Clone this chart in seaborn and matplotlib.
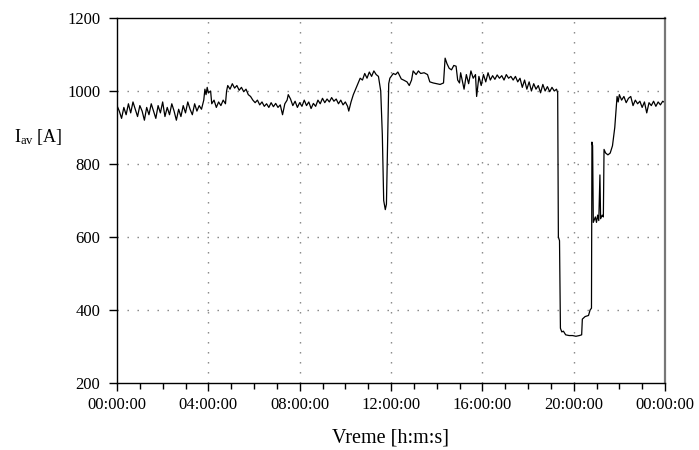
import matplotlib
matplotlib.use("Agg")
import matplotlib.pyplot as plt
import pandas as pd
import seaborn as sns

# time of day in hours and averaged current in A
hours = [
    0.0, 0.1, 0.2, 0.3, 0.4, 0.5, 0.6, 0.7, 0.8, 0.9,
    1.0, 1.1, 1.2, 1.3, 1.4, 1.5, 1.6, 1.7, 1.8, 1.9,
    2.0, 2.1, 2.2, 2.3, 2.4, 2.5, 2.6, 2.7, 2.8, 2.9,
    3.0, 3.1, 3.2, 3.3, 3.4, 3.5, 3.6, 3.7, 3.8, 3.85,
    3.9, 3.95, 4.0, 4.1, 4.15, 4.25, 4.35, 4.45, 4.55, 4.65,
    4.75, 4.8, 4.85, 4.95, 5.05, 5.15, 5.25, 5.35, 5.45, 5.55,
    5.65, 5.75, 5.85, 5.95, 6.05, 6.15, 6.25, 6.35, 6.45, 6.55,
    6.65, 6.75, 6.85, 6.95, 7.05, 7.15, 7.25, 7.35, 7.45, 7.5,
    7.6, 7.7, 7.8, 7.9, 8.0, 8.1, 8.2, 8.3, 8.4, 8.5,
    8.6, 8.7, 8.8, 8.9, 9.0, 9.1, 9.2, 9.3, 9.4, 9.5,
    9.6, 9.7, 9.8, 9.9, 10.0, 10.1, 10.15, 10.25, 10.35, 10.45,
    10.55, 10.65, 10.75, 10.85, 10.95, 11.05, 11.15, 11.25, 11.35, 11.45,
    11.55, 11.62, 11.68, 11.75, 11.8, 11.85, 11.9, 11.95, 12.1, 12.2,
    12.3, 12.45, 12.55, 12.7, 12.8, 12.9, 12.97, 13.1, 13.2, 13.3,
    13.45, 13.6, 13.7, 13.85, 14.0, 14.15, 14.3, 14.37, 14.45, 14.55,
    14.65, 14.75, 14.85, 14.92, 15.0, 15.05, 15.1, 15.2, 15.3, 15.4,
    15.5, 15.6, 15.7, 15.75, 15.85, 15.95, 16.05, 16.15, 16.25, 16.35,
    16.45, 16.55, 16.65, 16.75, 16.85, 16.95, 17.05, 17.15, 17.25, 17.35,
    17.45, 17.55, 17.65, 17.75, 17.85, 17.95, 18.05, 18.15, 18.25, 18.35,
    18.45, 18.55, 18.65, 18.75, 18.85, 18.95, 19.05, 19.15, 19.25, 19.3,
    19.33, 19.38, 19.42, 19.48, 19.55, 19.65, 19.8, 19.95, 20.1, 20.25,
    20.35, 20.38, 20.5, 20.65, 20.72, 20.78, 20.8, 20.83, 20.86, 20.95,
    21.0, 21.05, 21.1, 21.15, 21.18, 21.25, 21.3, 21.33, 21.4, 21.5,
    21.6, 21.7, 21.8, 21.9, 21.95, 22.0, 22.1, 22.2, 22.3, 22.4,
    22.5, 22.6, 22.7, 22.8, 22.9, 23.0, 23.1, 23.2, 23.3, 23.4,
    23.5, 23.6, 23.7, 23.8, 23.9, 24.0,
]
current = [
    960, 945, 925, 955, 935, 965, 940, 970, 950, 930,
    960, 945, 920, 955, 935, 965, 945, 925, 960, 940,
    970, 930, 955, 935, 965, 945, 920, 950, 930, 960,
    940, 970, 950, 935, 965, 945, 960, 950, 975, 1005,
    990, 1010, 995, 1000, 965, 975, 955, 970, 960, 975,
    965, 1000, 1015, 1005, 1020, 1008, 1015, 1002, 1010, 998,
    1005, 990, 985, 975, 968, 975, 962, 970, 958, 965,
    955, 968, 957, 966, 955, 962, 935, 965, 975, 990,
    978, 960, 972, 955, 968, 958, 975, 960, 970, 952,
    966, 958, 975, 965, 980, 968, 978, 970, 982, 972,
    978, 965, 975, 962, 970, 958, 945, 970, 990, 1005,
    1020, 1035, 1030, 1048, 1035, 1052, 1040, 1055, 1045, 1040,
    1000, 880, 700, 675, 690, 850, 1020, 1035, 1048, 1045,
    1052, 1033, 1030, 1025, 1015, 1030, 1055, 1045, 1055, 1048,
    1050, 1045, 1025, 1022, 1020, 1018, 1022, 1090, 1075, 1062,
    1058, 1070, 1068, 1030, 1022, 1050, 1035, 1005, 1045, 1020,
    1055, 1035, 1045, 985, 1040, 1015, 1045, 1025, 1050, 1030,
    1042, 1032, 1044, 1035, 1042, 1030, 1045, 1035, 1040, 1030,
    1040, 1025, 1035, 1010, 1030, 1005, 1025, 1000, 1020, 1005,
    1015, 995, 1018, 1000, 1012, 998, 1010, 1000, 1005, 995,
    600, 590, 350, 340, 342, 332, 330, 330, 328, 330,
    332, 375, 382, 385, 400, 405, 860, 850, 640, 655,
    640, 660, 645, 770, 650, 660, 655, 840, 830, 825,
    830, 850, 900, 985, 970, 990, 975, 985, 968, 980,
    985, 960, 975, 965, 972, 955, 970, 940, 968, 960,
    972, 958, 970, 962, 972, 968,
]

x_ticks = [0, 4, 8, 12, 16, 20, 24]
x_tick_labels = ["00:00:00", "04:00:00", "08:00:00", "12:00:00",
                 "16:00:00", "20:00:00", "00:00:00"]
y_ticks = [200, 400, 600, 800, 1000, 1200]

df = pd.DataFrame({"hours": hours, "current": current})

sns.set_theme(style="white", rc={"text.color": "black", "xtick.color": "black",
                                 "ytick.color": "black", "axes.labelcolor": "black"})
plt.rcParams["font.family"] = ["Liberation Serif", "DejaVu Serif"]
plt.rcParams["mathtext.fontset"] = "custom"
plt.rcParams["mathtext.rm"] = "Liberation Serif"
plt.rcParams["mathtext.it"] = "Liberation Serif:italic"

fig = plt.figure(figsize=(6.99, 4.5), dpi=100)
ax = fig.add_axes([117 / 699, 1 - 383 / 450, 548 / 699, 365 / 450])

sns.lineplot(data=df, x="hours", y="current", ax=ax, color="black",
             linewidth=0.9, estimator=None, sort=False)

ax.set_xlim(0, 24)
ax.set_ylim(200, 1200)
ax.set_xticks(x_ticks)
ax.set_xticklabels(x_tick_labels)
ax.set_xticks(range(0, 25), minor=True)
ax.set_yticks(y_ticks)
ax.set_xlabel("")
ax.set_ylabel("")

ax.tick_params(axis="x", which="major", direction="out", length=6, width=1,
               color="black", labelsize=12, pad=4, bottom=True)
ax.tick_params(axis="x", which="minor", direction="out", length=4, width=1,
               color="black", bottom=True)
ax.tick_params(axis="y", direction="out", length=6, width=1, color="black",
               labelsize=12, pad=6, left=True)

for v in x_ticks[1:-1]:
    ax.axvline(v, color="#808080", linewidth=1.0, linestyle=(0, (1, 6.2)), zorder=0)
for v in y_ticks[1:-1]:
    ax.axhline(v, color="#808080", linewidth=1.0, linestyle=(0, (1, 6.2)), zorder=0)

for side in ["left", "bottom", "top"]:
    ax.spines[side].set_color("black")
    ax.spines[side].set_linewidth(1.0)
ax.spines["right"].set_color("#777777")
ax.spines["right"].set_linewidth(1.6)

fig.text(14 / 699, 1 - 137 / 450, r"I$_{\rm av}$ [A]", fontsize=13,
         ha="left", va="center")
fig.text(391 / 699, 1 - 438 / 450, "Vreme [h:m:s]", fontsize=14.5,
         ha="center", va="center")

fig.savefig("out.png", dpi=100)
plt.close(fig)
